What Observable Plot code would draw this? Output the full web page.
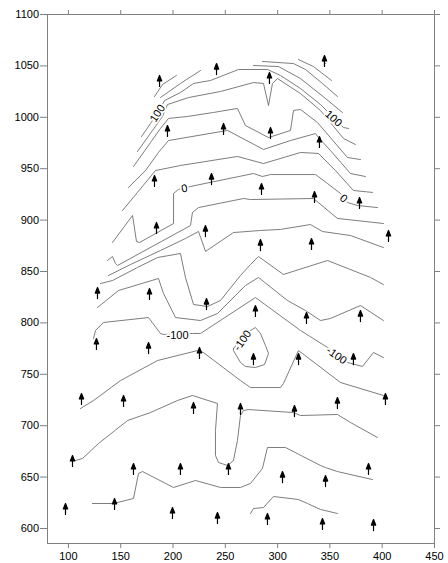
<!DOCTYPE html>
<html><head><meta charset="utf-8">
<script src="https://cdn.jsdelivr.net/npm/d3@7"></script>
<script src="https://cdn.jsdelivr.net/npm/@observablehq/plot@0.6"></script>
<style>body{margin:0;background:#fff}svg{display:block}</style>
</head><body><div id="chart"></div>
<script>
const xTicks = [100,150,200,250,300,350,400,450];
const yTicks = [600,650,700,750,800,850,900,950,1000,1050,1100];
const arrowX = [187.1,241.6,292.2,344.8,194.7,248.3,293.2,340.0,182.3,236.8,284.6,335.3,378.3,184.2,231.0,283.6,332.4,406.0,127.8,177.5,232.0,327.6,379.2,278.8,126.8,176.6,225.3,276.9,320.0,372.5,112.5,152.7,219.6,264.5,357.2,403.1,316.1,103.9,162.2,207.1,253.0,304.7,345.8,386.9,97.2,144.1,199.5,242.5,290.3,342.9,391.7];
const arrowY = [1040.7,1052.3,1043.6,1060.1,992.0,994.0,990.1,981.3,943.4,945.3,935.6,927.8,922.0,897.7,894.7,881.1,882.1,889.9,834.4,833.5,823.7,810.1,812.0,816.9,784.8,780.9,776.1,770.2,770.2,770.2,731.3,729.4,722.6,721.6,727.4,731.3,719.6,671.0,663.2,663.2,663.2,655.4,651.5,663.2,624.3,629.2,620.4,615.5,614.6,609.7,608.7];

// contour polylines [x, y]
const cH = [[342.9,1055.3],[345.8,1052.3]];
const cG = [[319.9,1056.2],[334.3,1049.4],[351.5,1035.8]];
const cF = [[285.5,1054.3],[315.2,1052.3],[326.7,1046.5],[342.9,1032.9],[357.2,1020.2]];
const cP = [[182.3,1020.2],[190.0,1031.9],[203.3,1040.7]];
const cQ = [[188.0,1019.2],[207.1,1032.9],[226.3,1045.5]];
const cE = [[276.9,1050.4],[300.8,1049.4],[321.9,1037.7],[345.8,1018.3],[362.0,1004.7]];
const c100 = [[169.9,981.3],[178.5,994.0],[185.2,1003.7],[191.9,1016.3],[207.1,1024.1],[219.6,1032.9],[235.8,1035.8],[262.6,1046.5],[290.3,1046.5],[302.7,1040.7],[321.9,1028.0],[341.0,1012.4],[355.3,997.9],[363.0,990.1],[367.8,989.1]];
const c80 = [[166.0,966.7],[180.4,987.2],[190.0,1000.8],[194.7,1012.4],[214.8,1019.2],[245.4,1025.1],[276.9,1033.8],[286.5,1032.9],[291.3,1011.5],[295.1,1032.9],[299.9,1037.7],[321.9,1023.1],[341.0,1006.6],[363.0,979.4],[374.4,973.5]];
const c60 = [[162.2,952.1],[178.5,975.5],[188.0,989.1],[195.7,998.9],[213.8,1000.8],[238.7,1004.7],[261.6,1008.6],[269.3,992.0],[291.3,980.3],[312.3,987.2],[315.2,1006.6],[321.9,1007.6],[338.1,994.9],[366.8,960.9],[379.2,958.9]];
const c40 = [[157.4,931.7],[173.7,948.2],[186.1,965.8],[195.7,977.4],[252.1,987.2],[286.5,968.7],[312.3,977.4],[336.2,984.2],[339.1,980.3],[350.5,967.7],[369.7,945.3],[384.0,942.4]];
const c20 = [[151.7,909.3],[166.0,926.9],[183.2,948.2],[207.1,953.1],[261.6,961.9],[286.5,955.0],[321.9,965.8],[339.1,964.8],[355.3,948.2],[372.5,928.8],[390.7,926.9]];
const c0 = [[142.1,878.2],[161.3,904.5],[165.1,879.2],[168.0,878.2],[200.5,896.7],[200.5,925.9],[205.2,929.8],[216.7,932.7],[276.9,945.3],[285.5,942.4],[293.2,944.3],[336.2,944.3],[347.7,935.6],[360.1,925.9],[366.8,917.1],[376.4,914.2],[395.5,912.2]];
const cN20 = [[137.4,860.7],[142.1,864.6],[145.0,857.8],[146.9,855.8],[216.7,894.7],[218.6,907.4],[224.4,912.2],[267.4,921.0],[274.1,920.0],[334.3,921.0],[357.2,901.6],[401.2,896.7]];
const cN40 = [[138.3,846.1],[159.4,856.8],[188.0,870.4],[211.9,882.1],[224.4,888.9],[231.1,869.5],[257.8,887.9],[283.6,889.9],[302.7,890.9],[331.4,895.7],[342.9,888.9],[369.7,885.0],[401.2,873.3]];
const cN60 = [[130.7,838.3],[142.1,841.2],[166.0,853.9],[185.2,863.6],[207.1,867.5],[211.9,844.2],[219.6,817.9],[233.0,815.9],[245.4,821.8],[264.5,846.1],[274.1,856.8],[281.7,864.6],[305.6,847.1],[347.7,860.7],[388.8,844.2],[401.2,837.3]];
const cN80 = [[127.8,815.0],[147.9,831.5],[186.1,843.2],[190.9,828.6],[202.4,805.2],[226.3,802.3],[242.5,809.1],[269.3,836.4],[281.7,844.2],[309.4,821.8],[326.7,812.0],[341.0,802.3],[350.5,804.3],[379.2,816.9],[401.2,802.3]];
const cN100 = [[124.0,784.8],[125.9,792.6],[133.5,800.4],[176.6,805.2],[188.0,789.7],[190.9,788.7],[218.6,789.7],[226.3,789.7],[278.8,824.7],[321.9,792.6],[347.7,776.1],[366.8,761.5],[381.1,757.6],[391.7,771.2],[401.2,766.3]];
const cN100loop = [[257.8,775.1],[266.4,785.8],[274.1,792.6],[278.8,795.5],[283.6,789.7],[288.4,778.0],[291.3,770.2],[287.5,759.5],[278.8,756.6],[269.3,757.6],[264.5,761.5],[257.8,773.1],[257.8,775.1]];
const cN120 = [[111.5,716.7],[124.0,724.5],[149.8,743.9],[185.2,763.4],[223.4,773.1],[229.1,771.2],[264.5,743.9],[274.1,737.1],[302.7,737.1],[305.6,741.0],[319.9,773.1],[323.8,770.2],[360.1,742.0],[401.2,729.4]];
const cN140 = [[106.8,666.1],[113.5,668.1],[128.8,682.7],[156.5,705.0],[178.5,712.8],[204.3,724.5],[218.6,729.4],[242.5,721.6],[240.6,695.3],[240.6,671.0],[243.5,664.2],[252.1,661.3],[257.8,666.1],[261.6,685.6],[264.5,709.9],[267.4,714.8],[272.2,715.7],[315.2,712.8],[321.9,709.9],[357.2,710.9],[369.7,703.1],[395.5,688.5]];
const cN160 = [[123.0,624.3],[143.1,624.3],[162.2,629.2],[167.0,653.5],[170.8,655.4],[200.5,639.9],[221.5,646.7],[245.4,639.9],[264.5,639.9],[274.1,643.8],[285.5,658.4],[290.3,678.8],[307.5,678.8],[341.0,661.3],[345.8,659.3],[357.2,655.4],[390.7,647.6]];
const cN180 = [[274.1,614.6],[276.9,619.4],[286.5,620.4],[296.1,631.1],[319.9,628.2],[328.6,624.3],[341.0,618.5],[357.2,614.6]];

const labelText = ["100","100","0","0","-100","-100","-100"];
const labelX = [185.2,353.4,211.0,363.0,204.3,266.4,356.3];
const labelY = [1003.7,998.8,930.7,921.0,787.7,782.9,768.3];
const labelAngle = [-57,42,-10,40,0,-55,35];

const contours = {cH,cG,cF,cP,cQ,cE,c100,c80,c60,c40,c20,c0,cN20,cN40,cN60,cN80,cN100,cN100loop,cN120,cN140,cN160,cN180};
const rows = Object.entries(contours).flatMap(([id, pts]) => pts.map(([x, y]) => ({id, x, y})));
const arrows = arrowX.map((x, i) => ({x, y: arrowY[i]}));
const labels = labelText.map((t, i) => ({t, x: labelX[i], y: labelY[i], a: labelAngle[i]}));
const arrowShape = {draw(ctx, l) {ctx.moveTo(0, l/2); ctx.lineTo(0, -l/2 + 4); ctx.moveTo(0, -l/2); ctx.lineTo(2.2, -l/2 + 5.5); ctx.lineTo(-2.2, -l/2 + 5.5); ctx.closePath();}};

const chart = Plot.plot({
  width: 448, height: 563,
  marginLeft: 47, marginRight: 14, marginTop: 14, marginBottom: 20,
  style: {fontFamily: "'Liberation Sans', Arial, sans-serif", fontSize: "11px", color: "black", background: "white"},
  x: {domain: [80, 450]},
  y: {domain: [585.4, 1100]},
  marks: [
    Plot.frame({stroke: "#808080"}),
    Plot.axisX({anchor: "bottom", ticks: xTicks, tickSize: 5, tickPadding: 4, tickFormat: d => String(d), label: null, stroke: "#808080", fill: "black"}),
    Plot.axisX({anchor: "top", ticks: xTicks, tickSize: 5, tickFormat: () => "", label: null, stroke: "#808080"}),
    Plot.axisY({anchor: "left", ticks: yTicks, tickSize: 7, tickPadding: 1.5, tickFormat: d => String(d), label: null, stroke: "#808080", fill: "black"}),
    Plot.axisY({anchor: "right", ticks: yTicks, tickSize: 5, tickFormat: () => "", label: null, stroke: "#808080"}),
    Plot.line(rows, {x: "x", y: "y", z: "id", stroke: "#666", strokeWidth: 0.85, curve: "linear"}),
    Plot.text(labels, {x: "x", y: "y", text: "t", rotate: "a", fontSize: 11, fill: "black", stroke: "white", strokeWidth: 3.5, paintOrder: "stroke"}),
    Plot.vector(arrows, {x: "x", y: "y", length: 11, rotate: 0, anchor: "middle", shape: arrowShape, stroke: "black", fill: "black", strokeWidth: 1.2})
  ]
});
document.getElementById("chart").append(chart);
</script></body></html>
